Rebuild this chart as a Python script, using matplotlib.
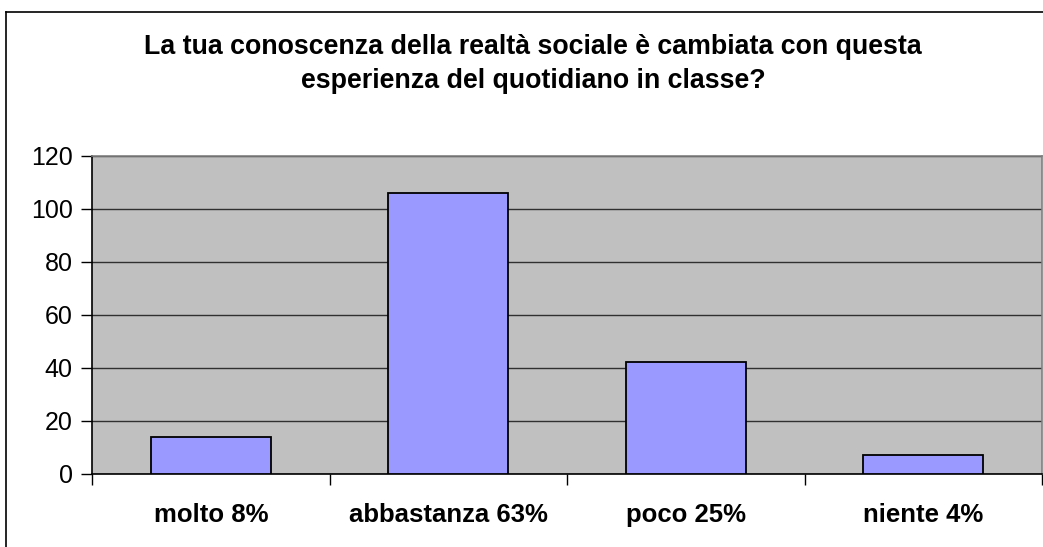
import matplotlib
matplotlib.use("Agg")
import matplotlib.pyplot as plt
from matplotlib.lines import Line2D
import numpy as np

plt.rcParams['font.family'] = ['Liberation Sans', 'DejaVu Sans']

categories = ["molto 8%", "abbastanza 63%", "poco 25%", "niente 4%"]
counts = [14, 106, 42, 7]
y_ticks = [0, 20, 40, 60, 80, 100, 120]

W, H = 1043, 547
fig = plt.figure(figsize=(W / 100, H / 100), dpi=100)
ax = fig.add_axes([92 / W, 1 - 473.7 / H, 950 / W, 318 / H])
ax.set_facecolor("#C0C0C0")

x = np.arange(len(categories))
ax.bar(x, counts, width=0.505, color="#9999FF", edgecolor="black", linewidth=1.3, zorder=3)

ax.set_xlim(-0.5, len(categories) - 0.5)
ax.set_ylim(0, 120)
ax.set_yticks(y_ticks)
ax.set_yticklabels([str(v) for v in y_ticks], fontsize=18)
ax.yaxis.grid(True, color="#303030", linewidth=1.0, zorder=1)

# category boundaries carry the tick marks, labels sit between them
ax.set_xticks(np.arange(-0.5, len(categories)))
ax.set_xticklabels([])
ax.set_xticks(x, minor=True)
ax.set_xticklabels(categories, minor=True, fontsize=18.5, fontweight="bold")
ax.tick_params(axis="x", which="minor", length=0, pad=21)
ax.tick_params(axis="x", which="major", length=8, width=1, direction="out")
ax.tick_params(axis="y", length=8, width=1, direction="out", pad=6)

for side in ["top", "right"]:
    ax.spines[side].set_color("#808080")
    ax.spines[side].set_linewidth(1.2)
for side in ["left", "bottom"]:
    ax.spines[side].set_color("black")
    ax.spines[side].set_linewidth(1.2)

fig.text(533 / W, 1 - 64 / H,
         "La tua conoscenza della realtà sociale è cambiata con questa\nesperienza del quotidiano in classe?",
         ha="center", va="center", fontsize=19.3, fontweight="bold", linespacing=1.35)

# outer chart border (cropped on the right and bottom)
fig.add_artist(Line2D([6 / W, 6 / W], [0, 1 - 12 / H], color="black", linewidth=1.2))
fig.add_artist(Line2D([6 / W, 1], [1 - 12 / H, 1 - 12 / H], color="black", linewidth=1.2))

fig.savefig("out.png", dpi=100)
